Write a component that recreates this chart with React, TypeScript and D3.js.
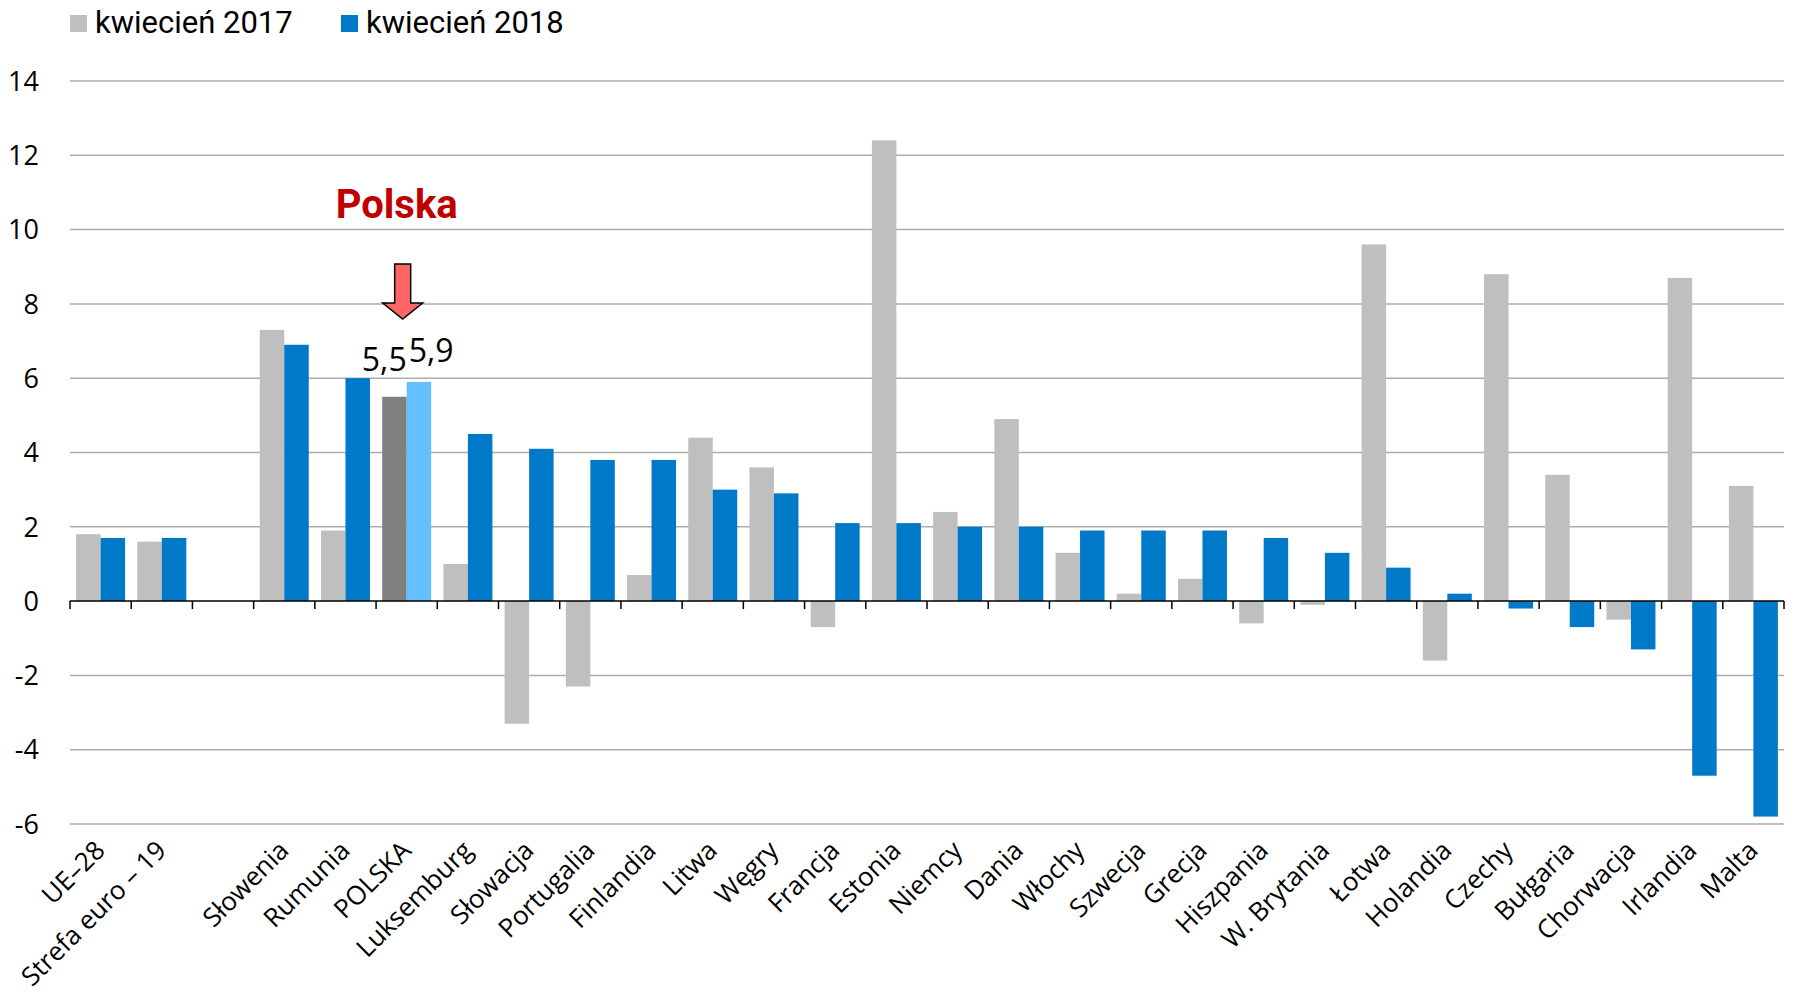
import React from "react";
import * as d3 from "d3";

const categories = [
  "UE–28", "Strefa euro – 19", "", "Słowenia", "Rumunia", "POLSKA", "Luksemburg",
  "Słowacja", "Portugalia", "Finlandia", "Litwa", "Węgry", "Francja", "Estonia",
  "Niemcy", "Dania", "Włochy", "Szwecja", "Grecja", "Hiszpania", "W. Brytania",
  "Łotwa", "Holandia", "Czechy", "Bułgaria", "Chorwacja", "Irlandia", "Malta",
];
const values2017: (number | null)[] = [
  1.8, 1.6, null, 7.3, 1.9, 5.5, 1.0, -3.3, -2.3, 0.7, 4.4, 3.6, -0.7, 12.4,
  2.4, 4.9, 1.3, 0.2, 0.6, -0.6, -0.1, 9.6, -1.6, 8.8, 3.4, -0.5, 8.7, 3.1,
];
const values2018: (number | null)[] = [
  1.7, 1.7, null, 6.9, 6.0, 5.9, 4.5, 4.1, 3.8, 3.8, 3.0, 2.9, 2.1, 2.1,
  2.0, 2.0, 1.9, 1.9, 1.9, 1.7, 1.3, 0.9, 0.2, -0.2, -0.7, -1.3, -4.7, -5.8,
];
const seriesNames = ["kwiecień 2017", "kwiecień 2018"];
const yTicks = [-6, -4, -2, 0, 2, 4, 6, 8, 10, 12, 14];
const highlightIndex = 5;
const highlightLabels = ["5,5", "5,9"];
const annotationTitle = "Polska";

const W = 1794;
const H = 992;
const LEFT = 70;
const RIGHT = 1784;
const TOP = 81;
const BOTTOM = 824;

const colors = ["#bfbfbf", "#0079c8"];
const highlightColors = ["#808080", "#66bfff"];
const labelFont = "'Open Sans', 'DejaVu Sans', sans-serif";
const legendFont = "Roboto, 'Noto Sans', sans-serif";

export default function App() {
  const keys = categories.map((c, i) => `${i}-${c}`);
  const x = d3.scaleBand<string>().domain(keys).range([LEFT, RIGHT]).padding(0);
  const bw = x.bandwidth();
  const inner = d3
    .scaleBand<string>()
    .domain(["0", "1"])
    .range([bw * 0.1, bw * 0.9])
    .padding(0);
  const y = d3.scaleLinear().domain([-6, 14]).range([BOTTOM, TOP]);
  const y0 = y(0);
  const series = [values2017, values2018];

  const boundaries = d3.range(keys.length + 1).map((i) => LEFT + i * x.step());

  const hx = x(keys[highlightIndex])!;
  const hBlueX = hx + inner("1")!;
  const hCenter = hx + bw / 2;

  return (
    <svg
      width={W}
      height={H}
      style={{ position: "absolute", left: 0, top: 0, background: "#fff" }}
    >
      {yTicks
        .filter((t) => t !== 0)
        .map((t) => (
          <line
            key={t}
            x1={LEFT}
            x2={RIGHT}
            y1={y(t)}
            y2={y(t)}
            stroke="#adadad"
            strokeWidth={1.5}
          />
        ))}
      {yTicks.map((t) => (
        <text
          key={t}
          x={39}
          y={y(t)}
          dy="0.36em"
          textAnchor="end"
          fontFamily={labelFont}
          fontSize={27}
          fill="#000"
        >
          {String(t)}
        </text>
      ))}
      {series.map((vals, si) =>
        vals.map((v, i) => {
          if (v === null) return null;
          const bx = x(keys[i])! + inner(String(si))!;
          const top = Math.min(y(v), y0);
          const h = Math.abs(y(v) - y0);
          const fill = i === highlightIndex ? highlightColors[si] : colors[si];
          return (
            <rect
              key={`${si}-${i}`}
              x={bx}
              y={top}
              width={inner.bandwidth()}
              height={h}
              fill={fill}
            />
          );
        })
      )}
      <line x1={LEFT} x2={RIGHT} y1={y0} y2={y0} stroke="#000" strokeWidth={1.5} />
      {boundaries.map((bx, i) => (
        <line
          key={i}
          x1={bx}
          x2={bx}
          y1={y0}
          y2={y0 + 8}
          stroke="#000"
          strokeWidth={1.5}
        />
      ))}
      {categories.map((c, i) => {
        const cx = x(keys[i])! + bw / 2 + 6;
        const cy = 852;
        return (
          <text
            key={i}
            transform={`translate(${cx},${cy}) rotate(-45)`}
            textAnchor="end"
            fontFamily={labelFont}
            fontSize={26}
            fill="#000"
          >
            {c}
          </text>
        );
      })}
      <text
        x={hBlueX}
        y={y(values2017[highlightIndex]!) - 26}
        textAnchor="end"
        fontFamily={labelFont}
        fontSize={32}
        fill="#000"
      >
        {highlightLabels[0]}
      </text>
      <text
        x={hBlueX + 2}
        y={y(values2018[highlightIndex]!) - 20}
        textAnchor="start"
        fontFamily={labelFont}
        fontSize={32}
        fill="#000"
      >
        {highlightLabels[1]}
      </text>
      {(() => {
        const ax = hCenter - 4;
        const top = 264;
        const headTop = 303;
        const tip = 319;
        const sw = 8;
        const hw = 20;
        const d = `M${ax - sw},${top} L${ax + sw},${top} L${ax + sw},${headTop} L${ax + hw},${headTop} L${ax},${tip} L${ax - hw},${headTop} L${ax - sw},${headTop} Z`;
        return <path d={d} fill="#ff6666" stroke="#000" strokeWidth={1.5} strokeLinejoin="miter" />;
      })()}
      <text
        x={hCenter - 10}
        y={218}
        textAnchor="middle"
        fontFamily={legendFont}
        fontWeight="bold"
        fontSize={40}
        fill="#c00000"
      >
        {annotationTitle}
      </text>
      {seriesNames.map((s, i) => {
        const lx = i === 0 ? 70 : 341;
        return (
          <g key={s}>
            <rect x={lx} y={15} width={17} height={17} fill={colors[i]} />
            <text
              x={lx + 25}
              y={33}
              fontFamily={legendFont}
              fontSize={31}
              fill="#000"
            >
              {s}
            </text>
          </g>
        );
      })}
    </svg>
  );
}
